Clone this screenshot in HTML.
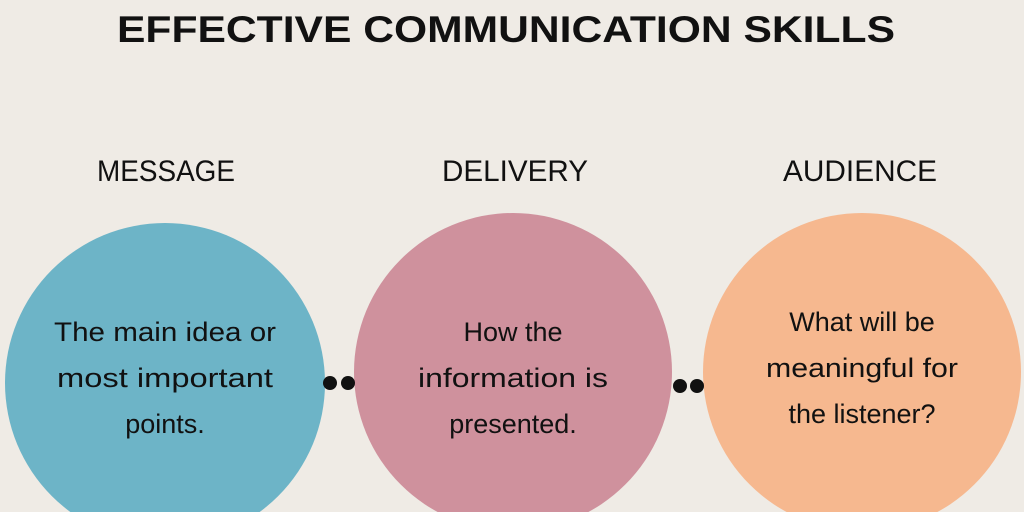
<!DOCTYPE html>
<html><head><style>
html,body{margin:0;width:1024px;height:512px;overflow:hidden;background:#efebe5;}
svg{display:block}
.h{font-family:"Liberation Sans",sans-serif;font-weight:bold;font-size:37px;fill:#111}
.l{font-family:"Liberation Sans",sans-serif;font-size:30px;fill:#111}
.t{font-family:"Liberation Sans",sans-serif;font-size:27px;fill:#111}
</style></head><body>
<svg width="1024" height="512" viewBox="0 0 1024 512">
<rect width="1024" height="512" fill="#efebe5"/>
<text x="506" y="42" text-anchor="middle" class="h" textLength="778" lengthAdjust="spacingAndGlyphs">EFFECTIVE COMMUNICATION SKILLS</text>
<text x="166" y="181" text-anchor="middle" class="l" textLength="138" lengthAdjust="spacingAndGlyphs">MESSAGE</text>
<text x="515" y="181" text-anchor="middle" class="l" textLength="146" lengthAdjust="spacingAndGlyphs">DELIVERY</text>
<text x="860" y="181" text-anchor="middle" class="l" textLength="154" lengthAdjust="spacingAndGlyphs">AUDIENCE</text>
<circle cx="165" cy="383" r="160" fill="#6db4c7"/>
<circle cx="513" cy="372" r="159" fill="#cf919d"/>
<circle cx="862" cy="372" r="159" fill="#f6b88f"/>
<circle cx="330" cy="383" r="7" fill="#111"/><circle cx="348" cy="383" r="7" fill="#111"/>
<circle cx="680" cy="386" r="7" fill="#111"/><circle cx="697" cy="386" r="7" fill="#111"/>
<g class="t" text-anchor="middle">
<text x="165" y="341" textLength="222" lengthAdjust="spacingAndGlyphs">The main idea or</text>
<text x="165" y="387" textLength="216" lengthAdjust="spacingAndGlyphs">most important</text>
<text x="165" y="433">points.</text>
<text x="513" y="341">How the</text>
<text x="513" y="387" textLength="190" lengthAdjust="spacingAndGlyphs">information is</text>
<text x="513" y="433">presented.</text>
<text x="862" y="331">What will be</text>
<text x="862" y="377" textLength="192" lengthAdjust="spacingAndGlyphs">meaningful for</text>
<text x="862" y="423">the listener?</text>
</g>
</svg>
</body></html>
